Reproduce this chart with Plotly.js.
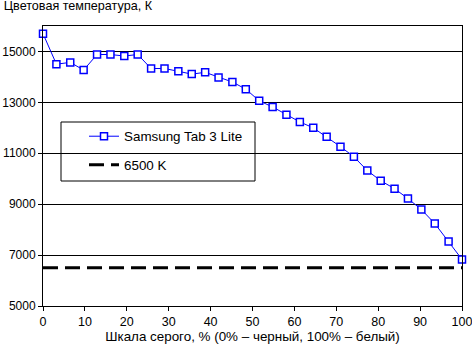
<!DOCTYPE html>
<html><head><meta charset="utf-8">
<script src="https://cdn.plot.ly/plotly-3.0.1.min.js"></script>
<style>html,body{margin:0;padding:0;background:#fff}#chart{width:472px;height:349px}</style>
</head><body><div id="chart"></div>
<script>
const grayPercent = [0, 3.2, 6.5, 9.7, 12.9, 16.1, 19.4, 22.6, 25.8, 29.0, 32.3, 35.5, 38.7, 41.9, 45.2, 48.4,
  51.6, 54.8, 58.1, 61.3, 64.5, 67.7, 71.0, 74.2, 77.4, 80.6, 83.9, 87.1, 90.3, 93.5, 96.8, 100];
const tabTemp = [15700, 14500, 14570, 14270, 14880, 14880, 14820, 14880, 14330, 14330, 14220, 14110, 14180, 13980, 13800, 13520,
  13060, 12820, 12510, 12230, 12000, 11650, 11260, 10860, 10320, 9920, 9610, 9220, 8790, 8240, 7530, 6830];
const refX = [0, 100];
const refTemp = [6500, 6500];
const seriesNames = ["Samsung Tab 3 Lite", "6500 K"];
const chartTitle = "Цветовая температура, К";
const xTitle = "Шкала серого, % (0% – черный, 100% – белый)";

const fam = "Liberation Sans, Arial, sans-serif";
const font = {family: fam, size: 12.5, color: "#000"};
const yFont = {family: fam, size: 12, color: "#000"};
const bigFont = {family: fam, size: 13.4, color: "#000"};

const traces = [
  {x: grayPercent, y: tabTemp, name: seriesNames[0], type: "scatter", mode: "lines+markers",
   legendgroup: "a",
   line: {color: "#0000ff", width: 1},
   marker: {symbol: "square", size: 7, color: "#ffffff", line: {color: "#0000ff", width: 1.5}},
   cliponaxis: false},
  {x: refX, y: refTemp, name: seriesNames[1], type: "scatter", mode: "lines",
   legendgroup: "b",
   line: {color: "#000000", width: 3, dash: "15px,7px"}}
];

const layout = {
  width: 472, height: 349,
  margin: {l: 43, r: 10, t: 26, b: 43},
  paper_bgcolor: "#fff", plot_bgcolor: "#fff",
  font: font,
  showlegend: true,
  title: {text: chartTitle, font: {family: fam, size: 12.6, color: "#000"},
          xref: "container", yref: "container", x: 0.008, xanchor: "left", y: 0.997, yanchor: "top"},
  xaxis: {range: [0, 100], dtick: 10, tick0: 0, showgrid: false, zeroline: false,
          showline: true, linecolor: "#000", linewidth: 1, mirror: true,
          ticks: "outside", ticklen: 4, tickcolor: "#000", ticklabeloverflow: "allow",
          tickfont: font,
          title: {text: xTitle, font: bigFont, standoff: 0}},
  yaxis: {range: [5000, 16000], dtick: 2000, tick0: 5000, tickformat: "d", showgrid: true, gridcolor: "#000", gridwidth: 1,
          zeroline: false, showline: true, linecolor: "#000", linewidth: 1, mirror: true,
          ticks: "outside", ticklen: 4, tickcolor: "#000", tickfont: yFont},
  shapes: [{type: "rect", xref: "paper", yref: "paper",
            x0: (61-43)/419, x1: (255-43)/419, y0: (306-181)/280, y1: (306-122)/280,
            line: {color: "#000", width: 1}, fillcolor: "#fff", layer: "between"}],
  legend: {x: (84-43)/419, xanchor: "left", y: (306-121)/280, yanchor: "top",
           bgcolor: "rgba(0,0,0,0)", borderwidth: 0, font: bigFont,
           traceorder: "grouped", tracegroupgap: 8}
};

Plotly.newPlot("chart", traces, layout, {displayModeBar: false, staticPlot: true});
</script></body></html>
